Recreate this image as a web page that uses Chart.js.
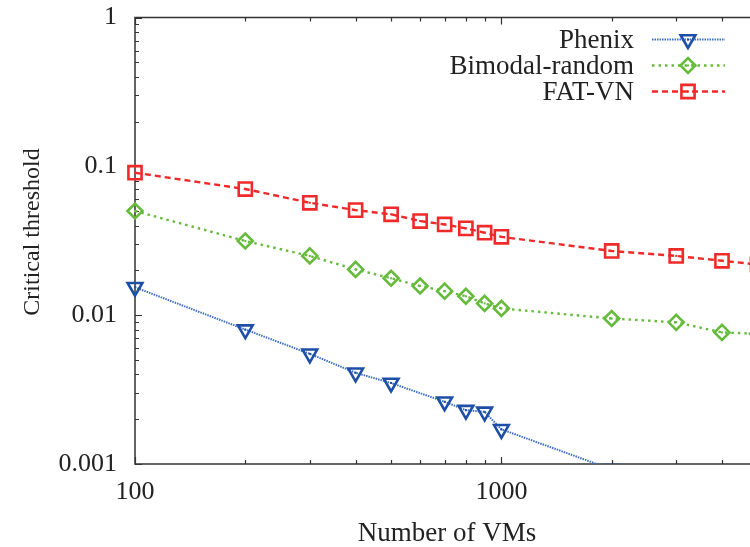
<!DOCTYPE html>
<html>
<head>
<meta charset="utf-8">
<script src="https://cdn.jsdelivr.net/npm/chart.js@4.4.1/dist/chart.umd.min.js"></script>
<style>
  html, body { margin: 0; padding: 0; background: #fff; }
  canvas { display: block; }
</style>
</head>
<body>
<canvas id="c" width="750" height="547"></canvas>
<script>
// Number of VMs on the x axis
const vmCounts = [100, 200, 300, 400, 500, 600, 700, 800, 900, 1000, 2000, 3000, 4000, 5000];
// Critical threshold per scheme (null = no measurement)
const phenix  = [0.0154, 0.0080, 0.0055, 0.0041, 0.0035, null, 0.00262, 0.0023, 0.00224, 0.00171, 0.00092, null, null, null];
const bimodal = [0.0501, 0.0315, 0.0250, 0.0203, 0.0177, 0.0157, 0.0145, 0.0134, 0.0120, 0.0111, 0.0095, 0.00895, 0.00766, 0.0075];
const fatvn   = [0.0906, 0.0704, 0.0569, 0.0508, 0.0476, 0.0429, 0.0407, 0.0383, 0.0358, 0.0336, 0.0270, 0.0250, 0.0232, 0.0219];
const seriesNames = ['Phenix', 'Bimodal-random', 'FAT-VN'];
const xTickValues = [100, 1000];
const yTickValues = [0.001, 0.01, 0.1, 1];
const xTitle = 'Number of VMs';
const yTitle = 'Critical threshold';

const SERIF = "'Liberation Serif', 'Times New Roman', serif";
const INK = '#222';

const toPoints = arr => vmCounts.map((x, i) => ({ x, y: arr[i] }));

// minor tick values (2..9 per decade)
function minorsBetween(lo, hi) {
  const out = [];
  for (let d = Math.floor(Math.log10(lo)); d <= Math.ceil(Math.log10(hi)); d++) {
    for (let m = 1; m <= 9; m++) {
      const v = m * Math.pow(10, d);
      if (v >= lo * 0.999 && v <= hi * 1.001) out.push({ v, major: m === 1 });
    }
  }
  return out;
}

// frame (left, top, bottom) with inward ticks, drawn like gnuplot's border
const framePlugin = {
  id: 'frame',
  beforeDatasetsDraw(chart) {
    const { ctx, chartArea: a, scales: { x, y } } = chart;
    ctx.save();
    ctx.strokeStyle = '#333';
    ctx.lineWidth = 1.5;
    ctx.beginPath();
    ctx.moveTo(a.right + 2, a.top);
    ctx.lineTo(a.left, a.top);
    ctx.lineTo(a.left, a.bottom);
    ctx.lineTo(a.right + 2, a.bottom);
    ctx.stroke();
    ctx.lineWidth = 1.2;
    ctx.beginPath();
    for (const t of minorsBetween(x.min, x.max)) {
      const px = Math.round(x.getPixelForValue(t.v)) + 0.5;
      const len = t.major ? 7 : 4;
      ctx.moveTo(px, a.bottom); ctx.lineTo(px, a.bottom - len);
      ctx.moveTo(px, a.top); ctx.lineTo(px, a.top + len);
    }
    for (const t of minorsBetween(y.min, y.max)) {
      const py = Math.round(y.getPixelForValue(t.v)) + 0.5;
      const len = t.major ? 7 : 4;
      ctx.moveTo(a.left, py); ctx.lineTo(a.left + len, py);
    }
    ctx.stroke();
    ctx.restore();
  }
};

function drawMarker(ctx, ds, cx, cy) {
  ctx.save();
  ctx.setLineDash([]);
  ctx.lineWidth = ds.pointBorderWidth;
  ctx.strokeStyle = ds.pointBorderColor;
  const r = ds.pointRadius;
  ctx.beginPath();
  if (ds.pointStyle === 'triangle') {
    // rotated 180deg: pointing down
    for (let k = 0; k < 3; k++) {
      const ang = Math.PI + k * 2 * Math.PI / 3;
      const px = cx + Math.sin(ang) * r, py = cy - Math.cos(ang) * r;
      k ? ctx.lineTo(px, py) : ctx.moveTo(px, py);
    }
    ctx.closePath();
  } else if (ds.pointStyle === 'rectRot') {
    ctx.moveTo(cx - r, cy); ctx.lineTo(cx, cy - r); ctx.lineTo(cx + r, cy); ctx.lineTo(cx, cy + r); ctx.closePath();
  } else {
    const s = Math.SQRT1_2 * r;
    ctx.rect(cx - s, cy - s, 2 * s, 2 * s);
  }
  ctx.stroke();
  ctx.restore();
}

// small centre dot inside each marker, plus the key and axis titles
const decorPlugin = {
  id: 'decor',
  afterDatasetsDraw(chart) {
    const { ctx, chartArea: a } = chart;
    ctx.save();
    chart.data.datasets.forEach((ds, i) => {
      const meta = chart.getDatasetMeta(i);
      ctx.fillStyle = ds.pointBorderColor;
      meta.data.forEach(pt => {
        if (pt.skip || pt.y > a.bottom || pt.x > a.right) return;
        ctx.fillRect(pt.x - 1, pt.y - 1, 2, 2);
      });
    });
    ctx.restore();
  },
  afterDraw(chart) {
    const { ctx } = chart;
    ctx.save();
    // key
    const rows = [39.5, 65.5, 91.5];
    chart.data.datasets.forEach((ds, i) => {
      const y = rows[i];
      ctx.font = '27px ' + SERIF;
      ctx.fillStyle = INK;
      ctx.textAlign = 'right';
      ctx.textBaseline = 'middle';
      ctx.fillText(ds.label, 634, y + 1);
      ctx.strokeStyle = ds.borderColor;
      ctx.lineWidth = ds.borderWidth;
      ctx.setLineDash(ds.borderDash);
      ctx.beginPath();
      ctx.moveTo(652, y); ctx.lineTo(725, y);
      ctx.stroke();
      drawMarker(ctx, ds, 688, y);
      ctx.fillStyle = ds.pointBorderColor;
      ctx.fillRect(687, y - 1, 2, 2);
    });
    // axis titles
    ctx.setLineDash([]);
    ctx.fillStyle = INK;
    ctx.font = '27px ' + SERIF;
    ctx.textAlign = 'center';
    ctx.textBaseline = 'alphabetic';
    ctx.fillText(xTitle, 447, 541);
    ctx.save();
    ctx.translate(39, 232);
    ctx.rotate(-Math.PI / 2);
    ctx.font = '24px ' + SERIF;
    ctx.fillText(yTitle, 0, 0);
    ctx.restore();
    ctx.restore();
  }
};

const blueMark = '#1d4fa7', blueLine = '#3d6fc4';
const green = '#66bb3c';
const red = '#ee2a2a';
const clipBox = { left: 14, top: 14, right: 14, bottom: 0 };

new Chart(document.getElementById('c'), {
  type: 'line',
  data: {
    datasets: [
      {
        label: seriesNames[0], data: toPoints(phenix), spanGaps: true,
        borderColor: blueLine, borderWidth: 2, borderDash: [1.5, 1],
        pointStyle: 'triangle', rotation: 180, pointRadius: 8.5,
        pointBorderColor: blueMark, pointBackgroundColor: 'rgba(0,0,0,0)', pointBorderWidth: 2.6,
        clip: clipBox
      },
      {
        label: seriesNames[1], data: toPoints(bimodal), spanGaps: true,
        borderColor: green, borderWidth: 2.4, borderDash: [2.5, 4],
        pointStyle: 'rectRot', pointRadius: 7.5,
        pointBorderColor: green, pointBackgroundColor: 'rgba(0,0,0,0)', pointBorderWidth: 2.6,
        clip: clipBox
      },
      {
        label: seriesNames[2], data: toPoints(fatvn), spanGaps: true,
        borderColor: red, borderWidth: 2.4, borderDash: [6, 4],
        pointStyle: 'rect', pointRadius: 9.3,
        pointBorderColor: red, pointBackgroundColor: 'rgba(0,0,0,0)', pointBorderWidth: 2.6,
        clip: clipBox
      }
    ]
  },
  options: {
    responsive: false,
    animation: false,
    events: [],
    layout: { autoPadding: false, padding: { left: 0, right: 0, top: 17.5, bottom: 0 } },
    elements: { line: { tension: 0 } },
    plugins: { legend: { display: false }, tooltip: { enabled: false } },
    scales: {
      x: {
        type: 'logarithmic', min: 100, max: 4770,
        grid: { display: false, drawTicks: false },
        border: { display: false },
        afterBuildTicks: s => { s.ticks = xTickValues.map(v => ({ value: v })); },
        afterFit: s => { s.height = 83; s.paddingLeft = 0; s.paddingRight = 0; },
        ticks: {
          autoSkip: false, maxRotation: 0, padding: 13,
          font: { family: SERIF, size: 26 }, color: INK,
          callback: v => String(v)
        }
      },
      y: {
        type: 'logarithmic', min: 0.001, max: 1,
        grid: { display: false, drawTicks: false },
        border: { display: false },
        afterBuildTicks: s => { s.ticks = yTickValues.map(v => ({ value: v })); },
        afterFit: s => { s.width = 135; s.paddingTop = 0; s.paddingBottom = 0; },
        ticks: {
          autoSkip: false, padding: 18,
          font: { family: SERIF, size: 26 }, color: INK,
          callback: v => String(v)
        }
      }
    }
  },
  plugins: [framePlugin, decorPlugin]
});
</script>
</body>
</html>
